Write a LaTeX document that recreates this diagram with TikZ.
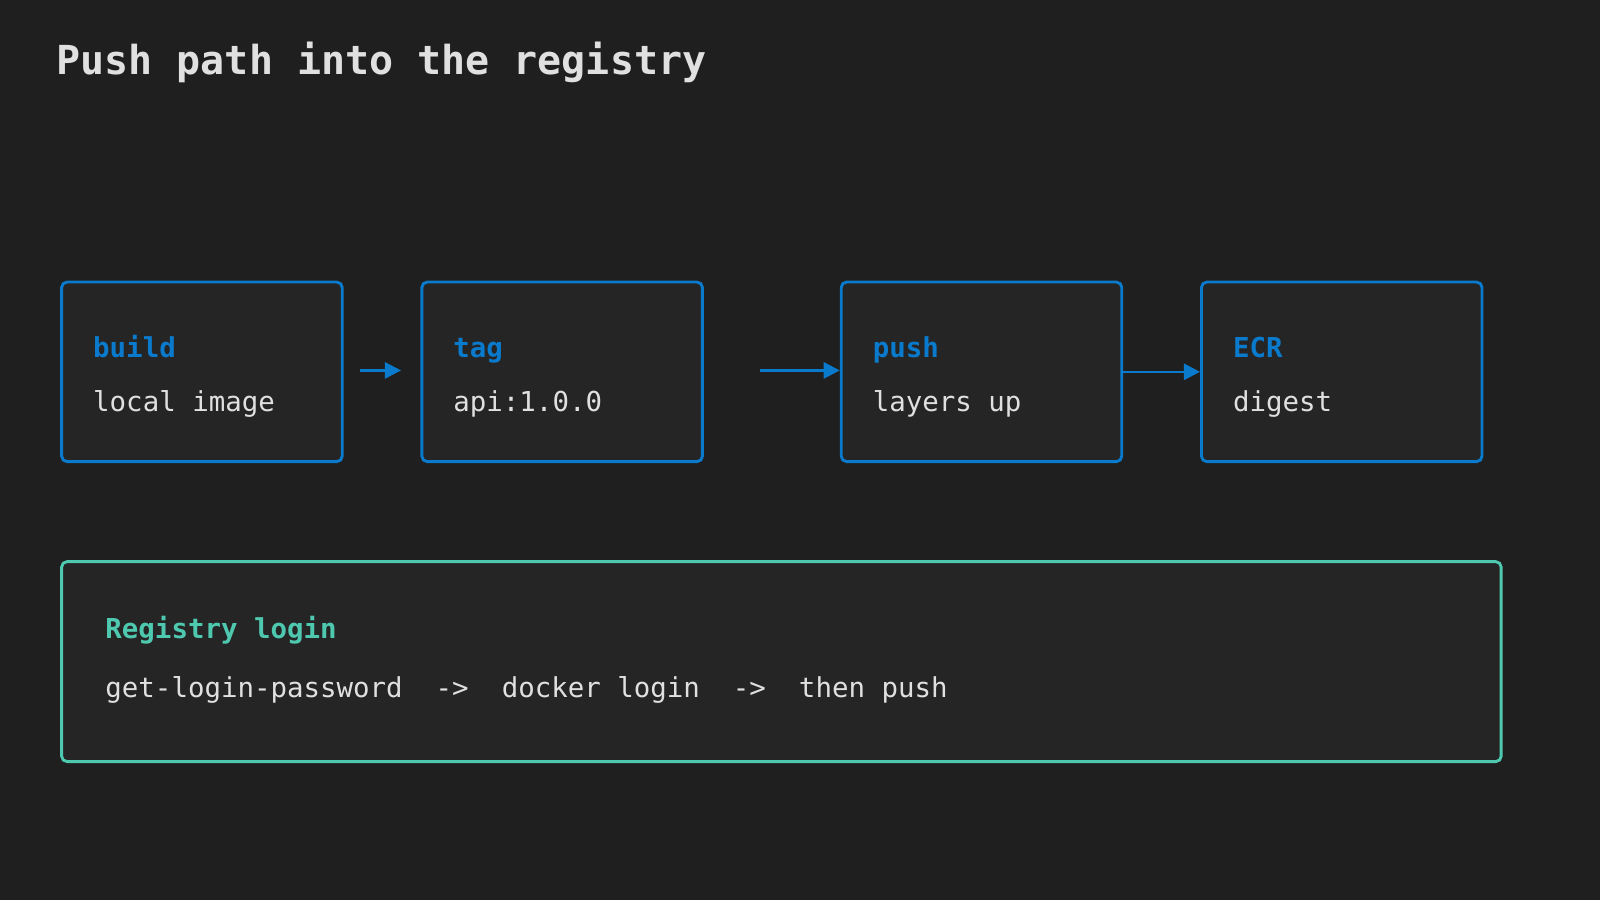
\documentclass[tikz,border=0pt]{standalone}
\usepackage{fontspec}
\setmonofont{DejaVu Sans Mono}
\usetikzlibrary{arrows.meta}
\definecolor{bg}{HTML}{1F1F1F}
\definecolor{boxfill}{HTML}{252526}
\definecolor{bluec}{HTML}{0A7ACD}
\definecolor{tealc}{HTML}{4EC9B0}
\definecolor{txt}{HTML}{E0E0E0}
\begin{document}
\begin{tikzpicture}[x=0.02cm,y=-0.02cm,
  stage/.style={draw=bluec,line width=1.6pt,fill=boxfill,rounded corners=3pt,minimum width=5.5cm,minimum height=3.52cm,anchor=north west},
  head/.style={anchor=base west,inner sep=0pt,text=bluec,font=\ttfamily\bfseries\fontsize{15.3}{17}\selectfont},
  body/.style={anchor=base west,inner sep=0pt,text=txt,font=\ttfamily\fontsize{15.3}{17}\selectfont},
  arr/.style={draw=bluec,line width=1.4pt,-{Triangle[length=9pt,width=9pt]}}]
\fill[bg] (0,0) rectangle (1568,882);
\useasboundingbox (0,0) rectangle (1568,882);
\node[anchor=base west,inner sep=0pt,text=txt,font=\ttfamily\bfseries\fontsize{22.3}{25}\selectfont] (title) at (55,73) {Push path into the registry};
\node[stage] (b1) at (59,275) {};
\node[stage] (b2) at (412,275) {};
\node[stage] (b3) at (823,275) {};
\node[stage] (b4) at (1176,275) {};
\node[head] (h1) at (91,350) {build};
\node[body] (t1) at (91,403) {local image};
\node[head] (h2) at (444,350) {tag};
\node[body] (t2) at (444,403) {api:1.0.0};
\node[head] (h3) at (855,350) {push};
\node[body] (t3) at (855,403) {layers up};
\node[head] (h4) at (1208,350) {ECR};
\node[body] (t4) at (1208,403) {digest};
\coordinate (a1s) at (353,363);
\coordinate (a1e) at (393,363);
\coordinate (a2s) at (745,363);
\draw[arr] (a1s) -- (a1e);
\draw[arr] (a2s) -- (a2s -| b3.west);
\draw[arr] (b3.east) -- (b4.west);
\node[draw=tealc,line width=1.6pt,fill=boxfill,rounded corners=3pt,minimum width=28.22cm,minimum height=3.92cm,anchor=north west] (login) at (59,549) {};
\node[anchor=base west,inner sep=0pt,text=tealc,font=\ttfamily\bfseries\fontsize{15.3}{17}\selectfont] (lh) at (103,626) {Registry login};
\node[body] (lt) at (103,684) {get-login-password\ \ ->\ \ docker login\ \ ->\ \ then push};
\end{tikzpicture}
\end{document}
